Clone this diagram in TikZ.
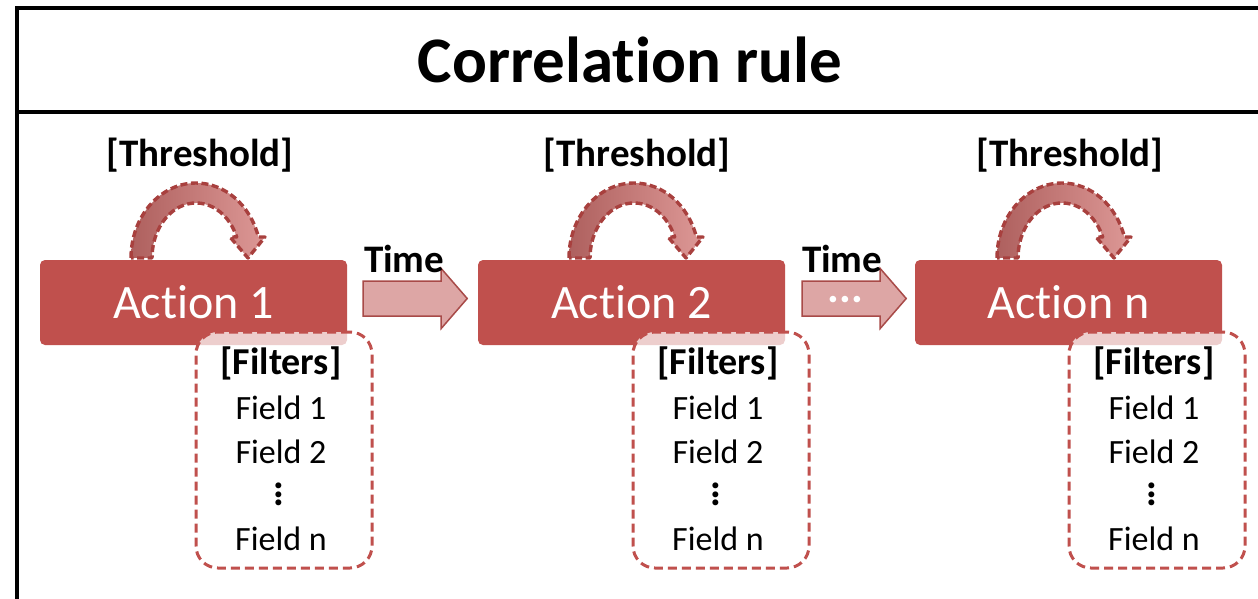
\documentclass[tikz,border=0pt]{standalone}
\usepackage{fontspec}
\setmainfont[Ligatures={NoCommon}]{Carlito}
\usetikzlibrary{calc}
\definecolor{actred}{HTML}{C0504D}
\definecolor{dashred}{HTML}{C0504D}
\definecolor{loopdark}{HTML}{AE605E}
\definecolor{looplight}{HTML}{DD9896}
\definecolor{loopline}{HTML}{A8403E}
\definecolor{timefill}{HTML}{DDA6A5}
\definecolor{timeline}{HTML}{A84A48}
\newcommand{\vdotsbold}{\vbox{\baselineskip=8.5pt\lineskiplimit=-20pt\hbox{.}\hbox{.}\hbox{.}}}
\tikzset{
  frameline/.style={line width=3.5pt, black},
  actionbox/.style={rectangle, rounded corners=5pt, fill=actred, text=white,
    minimum width=307pt, minimum height=85pt, inner sep=0pt,
    font=\fontsize{48}{48}\selectfont},
  filterbox/.style={rectangle, rounded corners=22pt, draw=dashred, fill=white, fill opacity=0.72,
    line width=3pt, dash pattern=on 9pt off 5pt, minimum width=176pt, minimum height=236pt},
  boldlabel/.style={font=\fontsize{39}{39}\selectfont\bfseries, inner sep=0pt},
  fieldtext/.style={font=\fontsize{34}{34}\selectfont, inner sep=0pt},
  filterhead/.style={font=\fontsize{38}{38}\selectfont\bfseries, inner sep=0pt},
  looparrow/.style={left color=loopdark, right color=looplight, draw=loopline,
    line width=3.4pt, dash pattern=on 7pt off 3.5pt, line join=round},
  timearrow/.style={fill=timefill, draw=timeline, line width=1.5pt},
  pics/selfloop/.style={code={
    \path[looparrow] (-65,0) arc[start angle=180, end angle=343.7, x radius=65, y radius=75]
      -- (69,-21) -- (52,0) -- (34,-21) -- (40.7,-21)
      arc[start angle=337.6, end angle=180, x radius=44, y radius=55] -- cycle;
  }},
  pics/blockarrow/.style={code={
    \path[timearrow] (0,-17.5) -- (78,-17.5) -- (78,-30) -- (104,0) -- (78,30) -- (78,17.5) -- (0,17.5) -- cycle;
  }}
}
\begin{document}
\begin{tikzpicture}[x=1pt,y=-1pt]
\useasboundingbox (0,0) rectangle (1258,598);
\fill[white] (0,0) rectangle (1258,598);
% frame
\draw[frameline] (17,620) -- (17,8) -- (1280,8);
\draw[frameline] (17,112) -- (1280,112);
\node[font=\fontsize{65}{65}\selectfont\bfseries, inner sep=0pt] (title) at (630,60) {Correlation rule};

% self loops (drawn first, boxes cover their bases)
\pic at (196,258) {selfloop};
\pic at (634,258) {selfloop};
\pic at (1062,258) {selfloop};

% action boxes
\node[actionbox] (a1) at (193.5,302.5) {Action 1};
\node[actionbox] (a2) at (631.5,302.5) {Action 2};
\node[actionbox] (an) at (1068.5,302.5) {Action n};

% threshold labels
\node[boldlabel] (th1) at (200,155) {[Threshold]};
\node[boldlabel] (th2) at (637,155) {[Threshold]};
\node[boldlabel] (th3) at (1070,155) {[Threshold]};

% time arrows
\pic at ($(a1.east)+(16,-4)$) {blockarrow};
\pic at ($(a2.east)+(17,-4)$) {blockarrow};
\node[boldlabel] (time1) at ($(a1.east)+(57,-44)$) {Time};
\node[boldlabel] (time2) at ($(a2.east)+(57,-44)$) {Time};
\node[font=\fontsize{44}{44}\selectfont\bfseries, text=white, inner sep=0pt] (dots) at ($(a2.east)+(60,-3)$) {...};

% filter boxes
\foreach \n/\x in {1/284, 2/721, 3/1157}{
  \node[filterbox] (f\n) at (\x,450) {};
  \node[filterhead] at ($(f\n.north)+(-3,33)$) {[Filters]};
  \node[fieldtext] at ($(f\n.north)+(-3,77)$) {Field 1};
  \node[fieldtext] at ($(f\n.north)+(-3,121)$) {Field 2};
  \node[font=\fontsize{40}{40}\selectfont\bfseries, inner sep=0pt] at ($(f\n.north)+(-5,164)$) {\vdotsbold};
  \node[fieldtext] at ($(f\n.north)+(-3,208)$) {Field n};
}
\end{tikzpicture}
\end{document}
